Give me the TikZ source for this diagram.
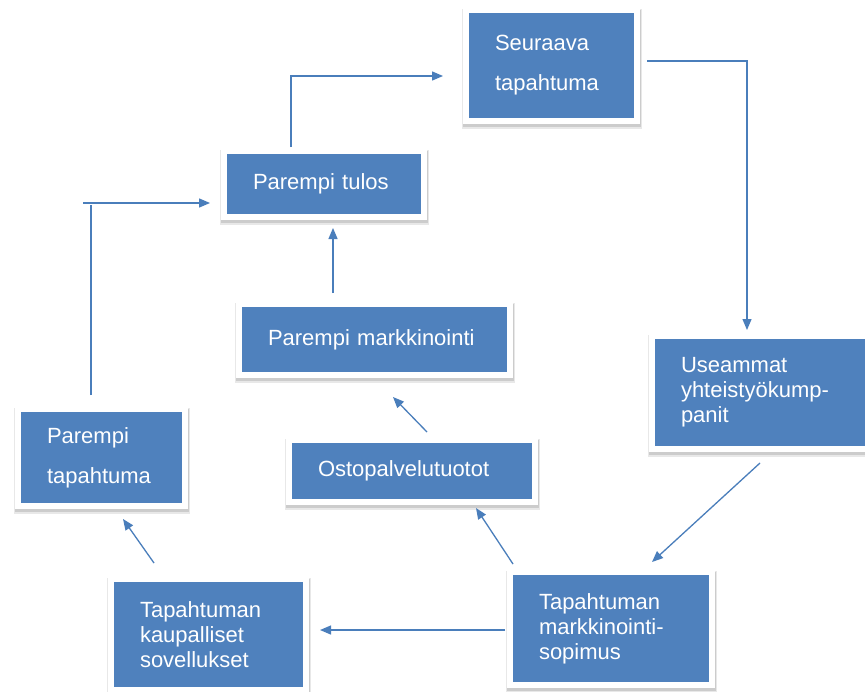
\documentclass[tikz,border=0pt]{standalone}
\usepackage{fontspec}
\setmainfont{Liberation Sans}
\usetikzlibrary{arrows.meta,backgrounds}
\definecolor{boxblue}{HTML}{4F81BD}
\definecolor{lineblue}{HTML}{4A7EBB}
\begin{document}
\begin{tikzpicture}[x=1pt,y=-1pt,
  box/.style={fill=boxblue, draw=white, line width=6pt, text=white, align=left,
    inner xsep=29pt, inner ysep=0pt, outer sep=0pt,
    font=\fontsize{22}{25}\selectfont},
  shadowsoft/.style={fill=black!9},
  shadowhard/.style={fill=black!20},
  arr/.style={draw=lineblue, line width=1.3pt, -{Triangle[length=11pt,width=9pt]}}]
\useasboundingbox (0,0) rectangle (865,691);

\node[box, text width=113pt, minimum height=111pt, font=\fontsize{22}{40}\selectfont] (S) at (551.5,65.5) {Seuraava\\tapahtuma};
\node[box, text width=142pt, minimum height=66pt] (PT) at (324,184) {Parempi tulos};
\node[box, text width=213pt, minimum height=71pt] (PM) at (374.5,339.5) {Parempi markkinointi};
\node[box, text width=188pt, minimum height=62pt] (O) at (412,471) {Ostopalvelutuotot};
\node[box, text width=168pt, minimum height=113pt] (U) at (765,392.5) {Useammat\\yhteistyökump-\\panit};
\node[box, text width=144pt, minimum height=113pt] (TM) at (611,628.5) {Tapahtuman\\markkinointi-\\sopimus};
\node[box, text width=137pt, minimum height=111pt] (TK) at (208.5,634.5) {Tapahtuman\\kaupalliset\\sovellukset};
\node[box, text width=109pt, minimum height=97pt, font=\fontsize{22}{40}\selectfont] (PTa) at (101.5,457.5) {Parempi\\tapahtuma};

\begin{pgfonlayer}{background}
\fill[white] (0,0) rectangle (865,691);
\foreach \n in {S,PT,PM,O,U,TM,TK,PTa}{
  \fill[shadowsoft] ([shift={(-4,-1)}]\n.north west) rectangle ([shift={(4.5,7.5)}]\n.south east);
  \fill[shadowhard] ([shift={(-3.5,0)}]\n.north west) rectangle ([shift={(4,5.5)}]\n.south east);
}
\end{pgfonlayer}

\draw[arr] ([shift={(-10.5,-14)}]PTa.north) -- ([shift={(-10.5,-204)}]PTa.north)
  ([shift={(-18.5,-206)}]PTa.north) -- ([shift={(-14,19)}]PT.west);
\draw[arr] ([shift={(-33,-4)}]PT.north) |- ([shift={(-23,10.5)}]S.west);
\draw[arr] ([shift={(10,-4.5)}]S.east) -| ([shift={(-18,-6)}]U.north);
\draw[arr] ([shift={(-5,14)}]U.south) -- ([shift={(41,-10)}]TM.north);
\draw[arr] ([shift={(-5,1.5)}]TM.west) -- ([shift={(14,-4.5)}]TK.east);
\draw[arr] ([shift={(-98,-8)}]TM.north) -- ([shift={(64,6)}]O.south);
\draw[arr] ([shift={(15,-8)}]O.north) -- ([shift={(18.5,22)}]PM.south);
\draw[arr] ([shift={(-41.5,-11)}]PM.north) -- ([shift={(9,11)}]PT.south);
\draw[arr] ([shift={(-54.5,-16)}]TK.north) -- ([shift={(21.5,13)}]PTa.south);
\end{tikzpicture}
\end{document}
